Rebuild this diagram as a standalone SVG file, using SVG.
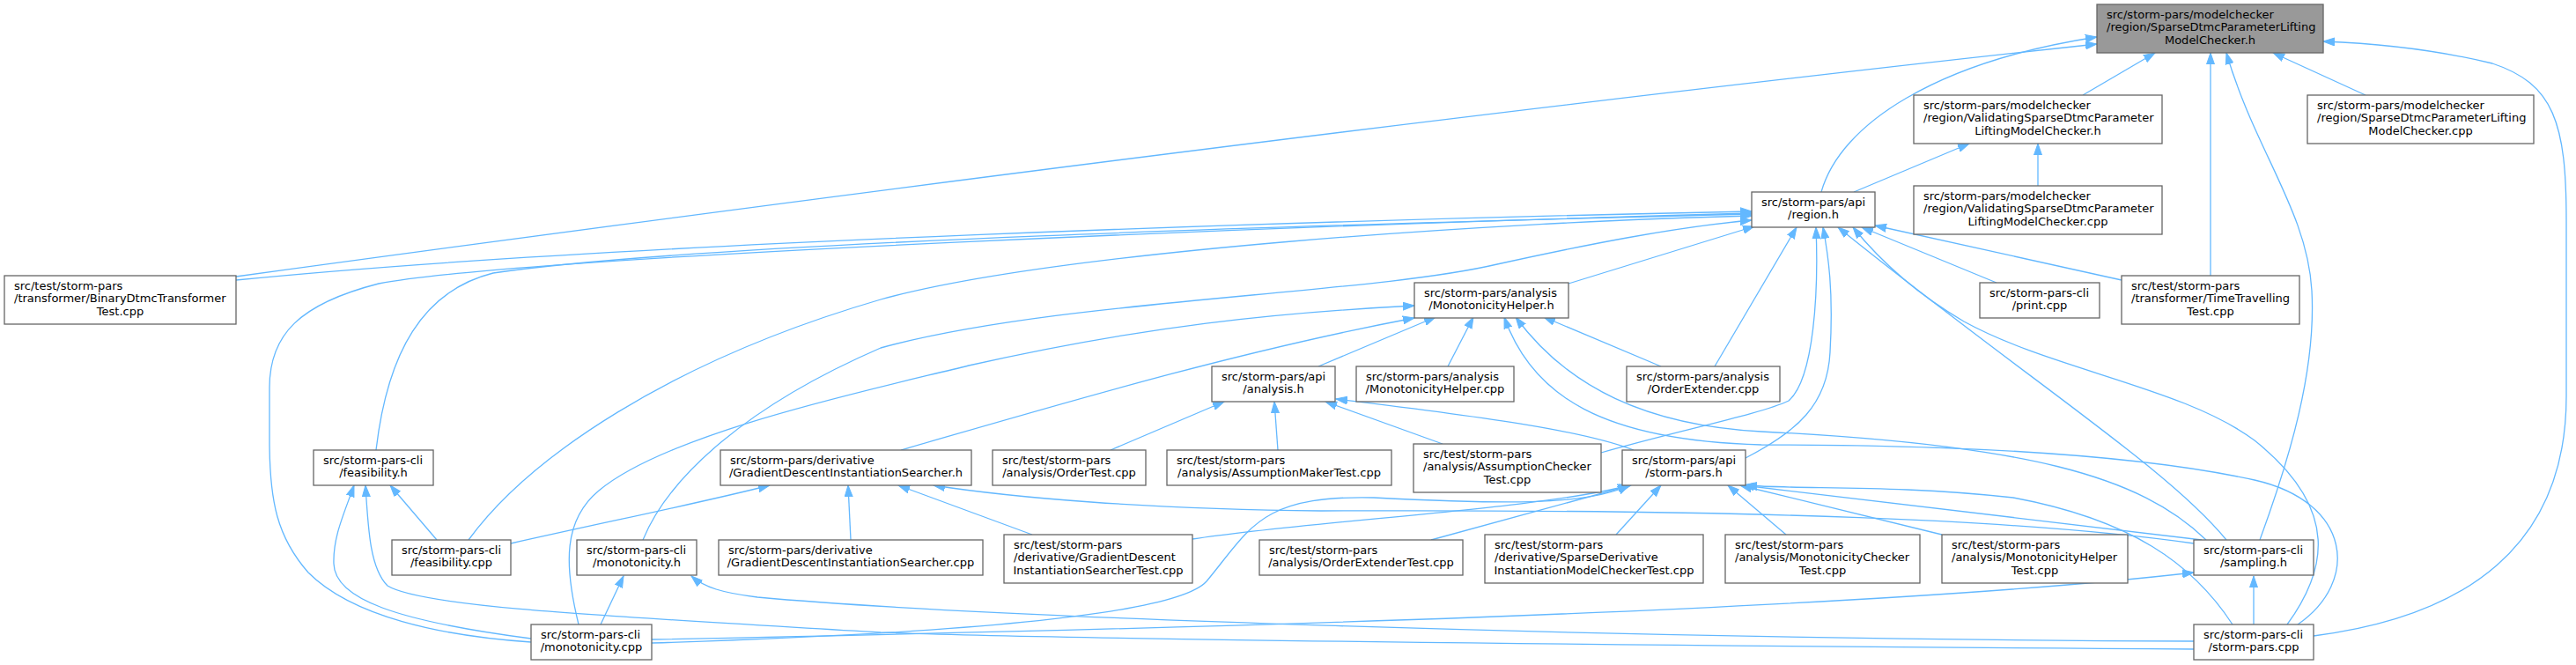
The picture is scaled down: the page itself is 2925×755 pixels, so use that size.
<svg xmlns="http://www.w3.org/2000/svg" width="2925" height="755" viewBox="0 0 2925 755">
<style>
.n rect{fill:#fff;stroke:#666;stroke-width:1.3}
.n.root rect{fill:#999}
text{font-family:"DejaVu Sans","Liberation Sans",sans-serif;font-size:13px;fill:#000}
.l{text-anchor:start}
.c{text-anchor:middle}
#edges path{fill:none;stroke:#63b8ff;stroke-width:1.3;marker-end:url(#ah)}
</style>
<defs>
<marker id="ah" markerWidth="14" markerHeight="10" refX="13" refY="5" orient="auto" markerUnits="userSpaceOnUse">
<path d="M0,0.5 L13,5 L0,9.5 z" fill="#63b8ff" stroke="#63b8ff" stroke-width="1"/>
</marker>
</defs>
<rect width="2925" height="755" fill="#fff"/>
<g id="edges">
<path d="M268,314 C1000,214 1700,124 2381,50"/>
<path d="M2068,218 C2090,140 2200,70 2381,42"/>
<path d="M2365,108 L2447,60"/>
<path d="M2686,108 L2581,60"/>
<path d="M2510,313 L2510,60"/>
<path d="M2566,613 C2600,520 2630,420 2625,330 C2620,240 2560,170 2528,60"/>
<path d="M2627,722 C2800,700 2914,620 2914,450 L2914,250 C2914,140 2900,95 2830,72 C2760,55 2690,49 2638,47"/>
<path d="M2105,218 L2236,163"/>
<path d="M2314,211 L2314,163"/>
<path d="M268,318 C700,275 1500,250 1989,240"/>
<path d="M427,511 C440,400 480,330 560,310 C800,275 1500,255 1989,243"/>
<path d="M603,729 C500,722 400,700 350,650 C315,610 306,570 306,500 L306,440 C306,380 340,345 430,322 C600,290 1500,255 1989,242"/>
<path d="M532,613 C600,520 760,410 1000,340 C1200,285 1700,252 1989,245"/>
<path d="M730,613 C760,540 850,460 1000,395 C1200,340 1550,335 1700,300 C1800,278 1900,258 1989,250"/>
<path d="M1781,322 L1992,257"/>
<path d="M1947,416 L2040,258"/>
<path d="M1982,520 C2040,490 2075,460 2078,400 C2082,330 2076,290 2070,258"/>
<path d="M1818,514 C1900,490 2000,470 2031,455 C2060,430 2065,330 2062,258"/>
<path d="M2528,613 C2460,530 2300,430 2087,258"/>
<path d="M2597,709 C2640,650 2660,580 2560,500 C2480,440 2330,420 2230,365 C2170,330 2130,290 2104,258"/>
<path d="M2267,321 L2114,258"/>
<path d="M2409,318 L2129,256"/>
<path d="M1497,416 L1630,360"/>
<path d="M1644,416 L1673,360"/>
<path d="M1886,416 L1753,360"/>
<path d="M657,709 C640,640 640,590 680,557 C760,490 1000,440 1100,415 C1300,370 1450,355 1606,347"/>
<path d="M1023,511 C1200,460 1400,400 1606,361"/>
<path d="M2505,613 C2430,540 2300,505 2000,490 C1870,483 1780,440 1721,360"/>
<path d="M2609,709 C2680,660 2670,570 2560,545 C2400,510 2150,505 2000,505 C1820,500 1740,450 1708,360"/>
<path d="M1261,511 L1390,456"/>
<path d="M1451,511 L1447,456"/>
<path d="M1638,504 L1505,456"/>
<path d="M1855,511 C1800,490 1700,475 1517,453"/>
<path d="M496,613 L443,551"/>
<path d="M603,725 C450,705 380,680 379,640 C378,610 390,585 402,551"/>
<path d="M2491,737 C1800,733 1200,725 1000,718 C700,700 480,690 440,665 C420,645 418,600 415,551"/>
<path d="M580,617 C700,590 800,570 874,551"/>
<path d="M966,613 L963,551"/>
<path d="M1172,607 L1020,551"/>
<path d="M2491,617 C2300,590 2000,578 1500,580 C1300,578 1150,565 1060,551"/>
<path d="M682,709 L708,654"/>
<path d="M2491,728 C1800,725 1100,700 860,678 C820,673 800,667 785,654"/>
<path d="M740,726 C1300,715 2100,695 2491,650"/>
<path d="M740,730 C1000,722 1330,705 1370,660 C1420,600 1430,562 1560,565 C1700,572 1800,575 1850,551"/>
<path d="M1354,612 C1500,590 1750,578 1850,551"/>
<path d="M1625,613 L1852,551"/>
<path d="M1835,607 L1886,551"/>
<path d="M2028,607 L1962,551"/>
<path d="M2205,607 L1976,551"/>
<path d="M2500,613 L1979,551"/>
<path d="M2535,709 C2490,640 2420,590 2286,565 C2150,550 2050,556 1982,551"/>
<path d="M2559,709 L2559,654"/>
</g>
<g id="n_top" class="n root"><rect x="2381" y="5" width="257" height="55"/><text class="l" x="2392" y="20.5">src/storm-pars/modelchecker</text><text class="l" x="2392" y="35">/region/SparseDtmcParameterLifting</text><text class="c" x="2509.5" y="49.5">ModelChecker.h</text></g>
<g id="n_vh" class="n"><rect x="2173" y="108" width="282" height="55"/><text class="l" x="2184" y="123.5">src/storm-pars/modelchecker</text><text class="l" x="2184" y="138">/region/ValidatingSparseDtmcParameter</text><text class="c" x="2314" y="152.5">LiftingModelChecker.h</text></g>
<g id="n_sdpcpp" class="n"><rect x="2620" y="108" width="257" height="55"/><text class="l" x="2631" y="123.5">src/storm-pars/modelchecker</text><text class="l" x="2631" y="138">/region/SparseDtmcParameterLifting</text><text class="c" x="2748.5" y="152.5">ModelChecker.cpp</text></g>
<g id="n_region" class="n"><rect x="1989" y="218" width="140" height="40"/><text class="l" x="2000" y="233.5">src/storm-pars/api</text><text class="c" x="2059" y="248">/region.h</text></g>
<g id="n_vcpp" class="n"><rect x="2173" y="211" width="282" height="55"/><text class="l" x="2184" y="226.5">src/storm-pars/modelchecker</text><text class="l" x="2184" y="241">/region/ValidatingSparseDtmcParameter</text><text class="c" x="2314" y="255.5">LiftingModelChecker.cpp</text></g>
<g id="n_binary" class="n"><rect x="5" y="313" width="263" height="55"/><text class="l" x="16" y="328.5">src/test/storm-pars</text><text class="l" x="16" y="343">/transformer/BinaryDtmcTransformer</text><text class="c" x="136.5" y="357.5">Test.cpp</text></g>
<g id="n_monoh" class="n"><rect x="1606" y="321" width="175" height="40"/><text class="l" x="1617" y="336.5">src/storm-pars/analysis</text><text class="c" x="1693.5" y="351">/MonotonicityHelper.h</text></g>
<g id="n_print" class="n"><rect x="2248" y="321" width="136" height="40"/><text class="l" x="2259" y="336.5">src/storm-pars-cli</text><text class="c" x="2316" y="351">/print.cpp</text></g>
<g id="n_time" class="n"><rect x="2409" y="313" width="202" height="55"/><text class="l" x="2420" y="328.5">src/test/storm-pars</text><text class="l" x="2420" y="343">/transformer/TimeTravelling</text><text class="c" x="2510" y="357.5">Test.cpp</text></g>
<g id="n_analysis" class="n"><rect x="1376" y="416" width="140" height="40"/><text class="l" x="1387" y="431.5">src/storm-pars/api</text><text class="c" x="1446" y="446">/analysis.h</text></g>
<g id="n_monocpp" class="n"><rect x="1540" y="416" width="179" height="40"/><text class="l" x="1551" y="431.5">src/storm-pars/analysis</text><text class="c" x="1629.5" y="446">/MonotonicityHelper.cpp</text></g>
<g id="n_orderext" class="n"><rect x="1847" y="416" width="174" height="40"/><text class="l" x="1858" y="431.5">src/storm-pars/analysis</text><text class="c" x="1934" y="446">/OrderExtender.cpp</text></g>
<g id="n_feash" class="n"><rect x="356" y="511" width="136" height="40"/><text class="l" x="367" y="526.5">src/storm-pars-cli</text><text class="c" x="424" y="541">/feasibility.h</text></g>
<g id="n_gdish" class="n"><rect x="818" y="511" width="285" height="40"/><text class="l" x="829" y="526.5">src/storm-pars/derivative</text><text class="c" x="960.5" y="541">/GradientDescentInstantiationSearcher.h</text></g>
<g id="n_ordertest" class="n"><rect x="1127" y="511" width="174" height="40"/><text class="l" x="1138" y="526.5">src/test/storm-pars</text><text class="c" x="1214" y="541">/analysis/OrderTest.cpp</text></g>
<g id="n_amt" class="n"><rect x="1325" y="511" width="255" height="40"/><text class="l" x="1336" y="526.5">src/test/storm-pars</text><text class="c" x="1452.5" y="541">/analysis/AssumptionMakerTest.cpp</text></g>
<g id="n_act" class="n"><rect x="1605" y="504" width="213" height="55"/><text class="l" x="1616" y="519.5">src/test/storm-pars</text><text class="l" x="1616" y="534">/analysis/AssumptionChecker</text><text class="c" x="1711.5" y="548.5">Test.cpp</text></g>
<g id="n_stormh" class="n"><rect x="1842" y="511" width="140" height="40"/><text class="l" x="1853" y="526.5">src/storm-pars/api</text><text class="c" x="1912" y="541">/storm-pars.h</text></g>
<g id="n_feascpp" class="n"><rect x="445" y="613" width="135" height="40"/><text class="l" x="456" y="628.5">src/storm-pars-cli</text><text class="c" x="512.5" y="643">/feasibility.cpp</text></g>
<g id="n_monoclih" class="n"><rect x="655" y="613" width="136" height="40"/><text class="l" x="666" y="628.5">src/storm-pars-cli</text><text class="c" x="723" y="643">/monotonicity.h</text></g>
<g id="n_gdiscpp" class="n"><rect x="816" y="613" width="300" height="40"/><text class="l" x="827" y="628.5">src/storm-pars/derivative</text><text class="c" x="966" y="643">/GradientDescentInstantiationSearcher.cpp</text></g>
<g id="n_gdist" class="n"><rect x="1140" y="607" width="214" height="55"/><text class="l" x="1151" y="622.5">src/test/storm-pars</text><text class="l" x="1151" y="637">/derivative/GradientDescent</text><text class="c" x="1247" y="651.5">InstantiationSearcherTest.cpp</text></g>
<g id="n_oet" class="n"><rect x="1430" y="613" width="231" height="40"/><text class="l" x="1441" y="628.5">src/test/storm-pars</text><text class="c" x="1545.5" y="643">/analysis/OrderExtenderTest.cpp</text></g>
<g id="n_sdt" class="n"><rect x="1686" y="607" width="248" height="55"/><text class="l" x="1697" y="622.5">src/test/storm-pars</text><text class="l" x="1697" y="637">/derivative/SparseDerivative</text><text class="c" x="1810" y="651.5">InstantiationModelCheckerTest.cpp</text></g>
<g id="n_mct" class="n"><rect x="1959" y="607" width="221" height="55"/><text class="l" x="1970" y="622.5">src/test/storm-pars</text><text class="l" x="1970" y="637">/analysis/MonotonicityChecker</text><text class="c" x="2069.5" y="651.5">Test.cpp</text></g>
<g id="n_mht" class="n"><rect x="2205" y="607" width="211" height="55"/><text class="l" x="2216" y="622.5">src/test/storm-pars</text><text class="l" x="2216" y="637">/analysis/MonotonicityHelper</text><text class="c" x="2310.5" y="651.5">Test.cpp</text></g>
<g id="n_sampling" class="n"><rect x="2491" y="613" width="136" height="40"/><text class="l" x="2502" y="628.5">src/storm-pars-cli</text><text class="c" x="2559" y="643">/sampling.h</text></g>
<g id="n_monoclicpp" class="n"><rect x="603" y="709" width="137" height="40"/><text class="l" x="614" y="724.5">src/storm-pars-cli</text><text class="c" x="671.5" y="739">/monotonicity.cpp</text></g>
<g id="n_stormcpp" class="n"><rect x="2491" y="709" width="136" height="40"/><text class="l" x="2502" y="724.5">src/storm-pars-cli</text><text class="c" x="2559" y="739">/storm-pars.cpp</text></g>
</svg>
